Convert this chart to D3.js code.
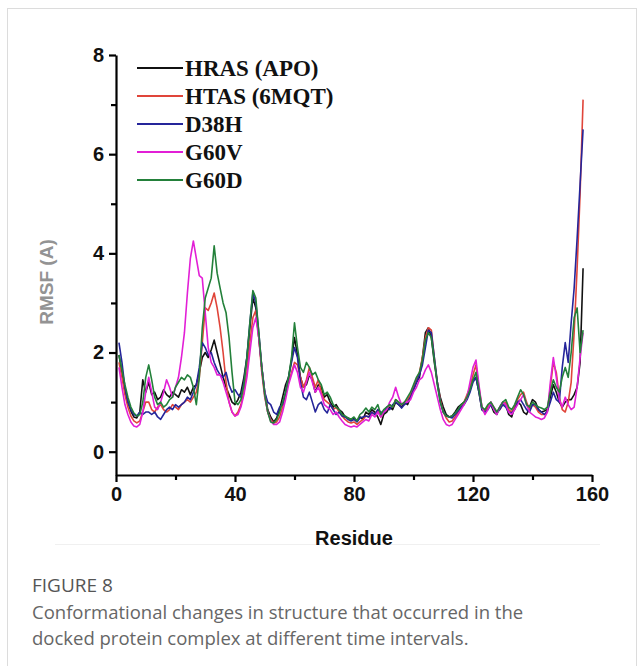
<!DOCTYPE html>
<html>
<head>
<meta charset="UTF-8">
<script src="https://d3js.org/d3.v7.min.js"></script>
<style>
  body { margin: 0; background: #fff; }
  svg { display: block; }
</style>
</head>
<body>
<script>
// RMSF per residue (1..157)
var seriesNames = ["HRAS (APO)", "HTAS (6MQT)", "D38H", "G60V", "G60D"];
var seriesColors = ["#111111", "#e0453a", "#25259a", "#e21fd6", "#23803a"];

var hrasApo = [
  1.95,1.6,1.25,1.0,0.82,0.7,0.68,0.8,1.45,1.2,
  1.4,1.15,1.2,1.05,1.1,1.25,1.15,1.1,1.2,1.15,
  1.1,1.25,1.2,1.3,1.15,1.3,1.35,1.6,1.9,2.0,
  1.9,2.05,2.25,2.0,1.75,1.5,1.3,1.15,1.0,0.95,
  1.05,1.2,1.5,1.9,2.5,3.1,2.9,2.3,1.7,1.2,
  0.85,0.7,0.6,0.68,0.85,1.1,1.35,1.5,1.85,2.3,
  1.95,1.5,1.3,1.35,1.55,1.45,1.2,1.35,1.3,1.1,
  1.15,1.0,0.9,0.95,0.85,0.8,0.7,0.68,0.65,0.68,
  0.62,0.7,0.65,0.8,0.75,0.85,0.8,0.7,0.55,0.75,
  0.8,0.9,0.85,1.0,0.95,0.9,1.0,0.95,1.1,1.25,
  1.4,1.5,1.9,2.4,2.5,2.3,1.8,1.4,1.1,0.9,
  0.75,0.7,0.72,0.8,0.9,0.95,1.0,1.1,1.25,1.45,
  1.5,1.2,0.85,0.8,0.9,0.95,0.8,0.75,0.9,1.0,
  0.95,0.75,0.7,0.9,1.0,0.95,0.8,0.75,0.9,1.05,
  1.0,0.85,0.8,0.82,0.85,1.1,1.35,1.2,1.0,0.9,
  1.0,1.05,1.05,1.15,1.3,1.8,3.7
];
var htas6mqt = [
  1.8,1.5,1.15,0.9,0.72,0.62,0.58,0.62,0.8,1.0,
  1.0,0.85,0.8,0.9,0.95,0.85,0.8,0.85,0.95,0.9,
  0.85,0.95,1.0,1.05,1.0,1.1,1.2,1.5,2.2,2.9,
  2.85,3.0,3.2,2.9,2.5,2.0,1.4,1.0,0.8,0.72,
  0.8,0.95,1.2,1.6,2.2,2.7,2.85,2.3,1.6,1.1,
  0.8,0.65,0.58,0.6,0.7,0.9,1.15,1.4,1.6,1.8,
  1.75,1.5,1.3,1.45,1.7,1.5,1.3,1.45,1.2,1.05,
  1.0,0.95,0.85,0.9,0.8,0.72,0.65,0.6,0.58,0.6,
  0.55,0.6,0.65,0.72,0.7,0.8,0.75,0.85,0.7,0.8,
  0.85,0.95,0.9,1.05,1.0,0.95,1.0,1.05,1.15,1.3,
  1.45,1.6,1.9,2.3,2.5,2.45,1.9,1.4,1.05,0.8,
  0.68,0.6,0.62,0.7,0.8,0.9,1.0,1.15,1.3,1.55,
  1.75,1.3,0.9,0.8,0.9,1.0,0.9,0.8,0.85,0.95,
  1.0,0.85,0.8,0.9,1.05,1.15,1.2,1.0,0.85,0.95,
  0.9,0.8,0.75,0.75,0.8,1.3,1.8,1.6,1.1,0.85,
  0.8,1.0,1.4,2.4,3.7,5.2,7.1
];
var d38h = [
  2.2,1.8,1.3,1.0,0.85,0.75,0.72,0.8,0.75,0.8,
  0.8,0.75,0.8,0.7,0.65,0.75,0.85,0.9,0.85,0.95,
  0.9,0.95,1.0,1.1,1.05,1.2,1.35,1.7,2.2,2.1,
  1.95,2.0,1.8,1.65,1.55,1.5,1.6,1.35,1.2,1.25,
  1.15,1.1,1.4,1.9,2.6,3.2,3.0,2.4,1.7,1.2,
  1.0,0.95,0.8,0.75,0.9,0.95,1.2,1.5,1.8,2.1,
  1.9,1.4,1.1,1.05,1.2,1.0,0.8,0.95,1.0,0.85,
  0.78,0.95,0.85,0.75,0.8,0.72,0.7,0.65,0.62,0.65,
  0.6,0.68,0.7,0.72,0.7,0.8,0.75,0.85,0.8,0.78,
  0.9,0.85,0.95,1.0,0.95,0.88,0.95,1.0,1.1,1.25,
  1.4,1.55,1.75,2.1,2.45,2.4,1.9,1.4,1.0,0.8,
  0.72,0.7,0.68,0.75,0.82,0.9,0.95,1.05,1.2,1.4,
  1.5,1.2,0.85,0.8,0.85,0.95,0.85,0.78,0.85,0.95,
  0.9,0.8,0.78,0.85,1.0,1.05,0.95,0.85,0.8,0.95,
  0.95,0.85,0.8,0.75,0.82,1.0,1.2,1.05,1.0,1.7,
  2.2,1.8,2.6,3.3,4.3,5.4,6.5
];
var g60v = [
  1.7,1.3,0.95,0.75,0.6,0.52,0.5,0.55,0.8,1.2,
  1.5,1.2,0.9,0.85,1.0,1.2,1.45,1.3,1.1,1.3,
  1.5,1.9,2.4,3.2,3.9,4.25,3.9,3.55,3.5,2.8,
  2.1,1.8,1.7,1.55,1.55,1.4,1.2,1.0,0.8,0.72,
  0.75,0.9,1.15,1.5,2.0,2.5,2.7,2.3,1.7,1.15,
  0.8,0.62,0.55,0.55,0.6,0.8,1.05,1.35,1.55,1.75,
  1.6,1.3,1.2,1.4,1.6,1.4,1.2,1.3,1.15,0.95,
  0.9,0.85,0.75,0.8,0.7,0.62,0.55,0.52,0.5,0.52,
  0.5,0.55,0.6,0.65,0.62,0.75,0.7,0.8,0.7,0.8,
  0.85,1.0,1.1,1.3,1.1,0.95,1.0,1.0,1.05,1.2,
  1.3,1.45,1.5,1.65,1.75,1.6,1.35,1.1,0.85,0.65,
  0.55,0.52,0.55,0.65,0.75,0.85,0.95,1.1,1.4,1.7,
  1.85,1.35,0.9,0.75,0.85,1.0,0.85,0.75,0.9,1.0,
  0.95,0.8,0.75,0.85,0.95,1.05,1.15,0.95,0.8,0.75,
  0.7,0.68,0.65,0.68,0.8,1.4,1.9,1.5,1.05,0.9,
  1.1,0.95,0.85,0.9,1.3,1.9,2.4
];
var g60d = [
  1.95,1.65,1.35,1.1,0.9,0.78,0.72,0.75,1.0,1.5,
  1.75,1.45,1.1,0.95,1.0,0.9,0.95,1.05,1.1,1.3,
  1.4,1.5,1.45,1.55,1.5,1.3,0.95,1.5,2.5,3.1,
  3.3,3.5,4.15,3.6,3.3,3.0,2.8,2.3,1.6,1.0,
  0.95,1.05,1.35,1.9,2.6,3.25,3.1,2.4,1.7,1.15,
  0.8,0.6,0.58,0.65,0.8,1.0,1.2,1.5,1.9,2.6,
  2.1,1.7,1.6,1.8,1.7,1.55,1.6,1.45,1.35,1.15,
  1.2,1.1,0.95,0.9,0.85,0.75,0.72,0.68,0.65,0.7,
  0.62,0.75,0.8,0.88,0.8,0.9,0.85,0.95,0.75,0.85,
  0.9,0.95,0.9,1.05,1.0,0.95,1.0,1.1,1.2,1.35,
  1.5,1.6,1.85,2.25,2.4,2.3,1.85,1.35,1.0,0.8,
  0.72,0.7,0.72,0.78,0.85,0.95,1.0,1.1,1.25,1.45,
  1.6,1.25,0.9,0.85,0.95,1.0,0.9,0.8,0.9,1.0,
  1.05,0.9,0.85,0.95,1.1,1.25,1.15,0.95,0.9,1.0,
  0.95,0.9,0.88,0.85,0.9,1.2,1.45,1.3,1.2,1.5,
  1.7,1.5,2.0,2.7,2.9,2.0,2.45
];
var residues = d3.range(1, 158);

var xMajor = [0, 40, 80, 120, 160], xMinor = [20, 60, 100, 140];
var yMajor = [0, 2, 4, 6, 8], yMinor = [1, 3, 5, 7];

var seriesValues = [hrasApo, htas6mqt, d38h, g60v, g60d];

var width = 644, height = 666;
var svg = d3.select("body").append("svg")
    .attr("width", width)
    .attr("height", height);

// card frame
svg.append("rect")
    .attr("x", 7.5).attr("y", 8.5)
    .attr("width", 629).attr("height", 680)
    .attr("fill", "none").attr("stroke", "#dcdcdc");
svg.append("line")
    .attr("x1", 55).attr("x2", 600).attr("y1", 544.5).attr("y2", 544.5)
    .attr("stroke", "#f0f0f0");

var x = d3.scaleLinear().domain([0, 160]).range([116, 592]);
var y = d3.scaleLinear().domain([-0.47, 8]).range([475, 55]);

// lines
var line = d3.line()
    .x(function(d, i) { return x(residues[i]); })
    .y(function(d) { return y(d); });

svg.append("g").selectAll("path")
    .data(seriesValues)
  .enter().append("path")
    .attr("d", line)
    .attr("fill", "none")
    .attr("stroke", function(d, i) { return seriesColors[i]; })
    .attr("stroke-width", 1.6)
    .attr("stroke-linejoin", "round");

// axes
var tickFont = "'Liberation Sans', Arial, sans-serif";

svg.append("g").attr("transform", "translate(0,475)")
    .call(d3.axisBottom(x).tickValues(xMajor).tickSize(7).tickSizeOuter(0).tickPadding(5));
svg.append("g").attr("transform", "translate(0,475)")
    .call(d3.axisBottom(x).tickValues(xMinor).tickSize(5).tickFormat(""))
    .select(".domain").remove();

svg.append("g").attr("transform", "translate(116,0)")
    .call(d3.axisLeft(y).tickValues(yMajor).tickSize(7).tickSizeOuter(0).tickPadding(5));
svg.append("g").attr("transform", "translate(116,0)")
    .call(d3.axisLeft(y).tickValues(yMinor).tickSize(5).tickFormat(""))
    .select(".domain").remove();

svg.selectAll(".domain, .tick line")
    .attr("stroke", "#000").attr("stroke-width", 2.2);
svg.selectAll(".tick text")
    .attr("font-family", tickFont)
    .attr("font-weight", "bold")
    .attr("font-size", 20)
    .attr("fill", "#111");

svg.append("text")
    .attr("x", 354).attr("y", 545)
    .attr("text-anchor", "middle")
    .attr("font-family", tickFont).attr("font-weight", "bold").attr("font-size", 20)
    .attr("fill", "#111")
    .text("Residue");

svg.append("text")
    .attr("transform", "translate(53,282) rotate(-90)")
    .attr("text-anchor", "middle")
    .attr("font-family", tickFont).attr("font-weight", "bold").attr("font-size", 19)
    .attr("fill", "#939393")
    .text("RMSF (A)");

// legend
var legend = svg.append("g").selectAll("g")
    .data(seriesNames)
  .enter().append("g")
    .attr("transform", function(d, i) { return "translate(0," + (68 + i * 28) + ")"; });
legend.append("line")
    .attr("x1", 137).attr("x2", 183)
    .attr("stroke", function(d, i) { return seriesColors[i]; })
    .attr("stroke-width", 2);
legend.append("text")
    .attr("x", 185).attr("y", 8)
    .attr("font-family", "'Liberation Serif', 'Times New Roman', serif")
    .attr("font-weight", "bold").attr("font-size", 23)
    .attr("fill", "#111")
    .text(function(d) { return d; });

// caption
var capFont = "'Open Sans', 'Noto Sans', sans-serif";
svg.append("text")
    .attr("x", 32).attr("y", 592)
    .attr("font-family", capFont).attr("font-size", 19)
    .attr("fill", "#555")
    .text("FIGURE 8");
var capLines = [
  "Conformational changes in structure that occurred in the",
  "docked protein complex at different time intervals."
];
svg.append("g").selectAll("text")
    .data(capLines)
  .enter().append("text")
    .attr("x", 32).attr("y", function(d, i) { return 619 + i * 26; })
    .attr("font-family", capFont).attr("font-size", 18.5)
    .attr("fill", "#666")
    .text(function(d) { return d; });
</script>
</body>
</html>
